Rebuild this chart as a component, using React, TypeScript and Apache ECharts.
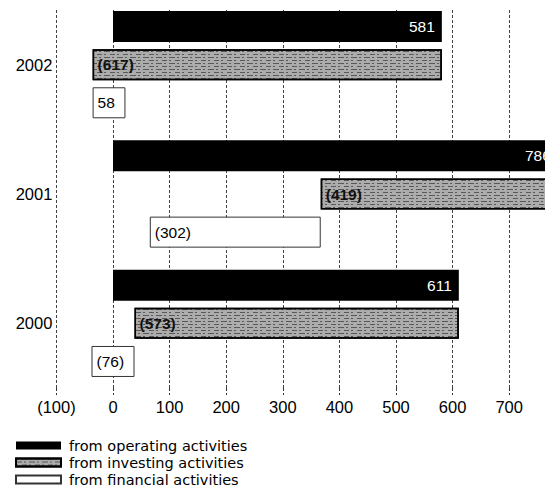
import React, { useEffect, useRef } from "react";
import * as echarts from "echarts";

// Cash flow per year (in millions), negative values shown in brackets
const years = ["2002", "2001", "2000"];
const operating = [581, 786, 611];
const investing = [-617, -419, -573];
const financial = [58, -302, -76];

const xTicksMin = -100;
const xTicksMax = 800;
const xTickStep = 100;
const lastLabelledTick = 700;

const seriesNames = [
  "from operating activities",
  "from investing activities",
  "from financial activities",
];

const FONT = "'Liberation Sans', Arial, Helvetica, sans-serif";
const LEGEND_FONT = "'DejaVu Sans', 'Liberation Sans', sans-serif";

const fmt = (v: number) => (v < 0 ? `(${-v})` : `${v}`);

export default function App() {
  const ref = useRef<HTMLDivElement>(null);

  useEffect(() => {
    if (!ref.current) return;
    const chart = echarts.init(ref.current, undefined, { renderer: "svg" });

    // Each flow starts where the previous one ended (waterfall per year)
    const invStart = operating;
    const invEnd = operating.map((o, i) => o + investing[i]);
    const invBase = invStart.map((s, i) => Math.min(s, invEnd[i]));
    const invLen = investing.map((v) => Math.abs(v));

    const finStart = invEnd;
    const finEnd = finStart.map((s, i) => s + financial[i]);
    const finBase = finStart.map((s, i) => Math.min(s, finEnd[i]));
    const finLen = financial.map((v) => Math.abs(v));

    const barWidth = 31;
    const hidden = {
      itemStyle: { color: "rgba(0,0,0,0)", borderWidth: 0 },
      silent: true,
      label: { show: false },
      emphasis: { disabled: true },
    };

    chart.setOption({
      animation: false,
      textStyle: { fontFamily: FONT },
      grid: { left: 56.4, top: 0, width: 509.4, height: 388, containLabel: false },
      // gridlines begin just above the first bar
      graphic: [
        {
          type: "rect",
          left: 0,
          top: 0,
          shape: { x: 0, y: 0, width: 600, height: 10 },
          style: { fill: "#fff" },
          silent: true,
          z: 1,
        },
      ],
      legend: {
        orient: "vertical",
        left: 15,
        top: 437,
        padding: 0,
        itemWidth: 45,
        itemHeight: 8,
        itemGap: 0,
        icon: "rect",
        data: seriesNames,
        selectedMode: false,
        textStyle: {
          fontSize: 14.5,
          lineHeight: 17,
          color: "#000",
          padding: [0, 0, 0, 3],
          fontFamily: LEGEND_FONT,
        },
      },
      xAxis: {
        type: "value",
        min: xTicksMin,
        max: xTicksMax,
        interval: xTickStep,
        axisLine: { show: false },
        axisTick: {
          show: true,
          length: 7,
          lineStyle: { color: "#333", type: [3, 2], width: 1 },
        },
        splitLine: {
          show: true,
          lineStyle: { color: "#444", type: [3, 2], width: 1 },
        },
        axisLabel: {
          fontSize: 16.5,
          color: "#000",
          margin: 10,
          fontFamily: FONT,
          formatter: (v: number) => (v > lastLabelledTick ? "" : fmt(v)),
        },
      },
      yAxis: {
        type: "category",
        inverse: true,
        data: years,
        axisLine: { show: false },
        axisTick: { show: false },
        splitLine: { show: false },
        axisLabel: {
          fontSize: 16.5,
          color: "#000",
          margin: 4,
          fontFamily: FONT,
        },
      },
      series: [
        {
          name: seriesNames[0],
          type: "bar",
          stack: "op",
          barWidth,
          barGap: "23%",
          data: operating,
          z: 3,
          itemStyle: { color: "#000" },
          label: {
            show: true,
            position: "insideRight",
            distance: 7,
            color: "#fff",
            fontSize: 15.5,
            fontFamily: FONT,
            formatter: (p: any) => fmt(operating[p.dataIndex]),
          },
        },
        {
          name: "investing-base",
          type: "bar",
          stack: "inv",
          stackStrategy: "all",
          barWidth,
          barGap: "23%",
          data: invBase,
          ...hidden,
        },
        {
          name: seriesNames[1],
          type: "bar",
          stack: "inv",
          stackStrategy: "all",
          barWidth,
          barGap: "23%",
          data: invLen,
          z: 3,
          itemStyle: {
            color: "#acacac",
            borderColor: "#000",
            borderWidth: 1.5,
            decal: {
              symbol: "rect",
              symbolSize: 1,
              color: "rgba(20,20,20,0.55)",
              dashArrayX: [
                [6, 2, 2, 3],
                [2, 4, 5, 2],
              ],
              dashArrayY: [1, 2],
              rotation: 0,
            },
          },
          label: {
            show: true,
            position: "insideLeft",
            distance: 5,
            color: "#111",
            fontWeight: "bold",
            fontSize: 15.5,
            fontFamily: FONT,
            formatter: (p: any) => fmt(investing[p.dataIndex]),
          },
        },
        {
          name: "financial-base",
          type: "bar",
          stack: "fin",
          stackStrategy: "all",
          barWidth,
          barGap: "23%",
          data: finBase,
          ...hidden,
        },
        {
          name: seriesNames[2],
          type: "bar",
          stack: "fin",
          stackStrategy: "all",
          barWidth,
          barGap: "23%",
          data: finLen,
          z: 3,
          itemStyle: { color: "#fff", borderColor: "#333", borderWidth: 1 },
          label: {
            show: true,
            position: "insideLeft",
            distance: 5,
            color: "#000",
            fontSize: 15.5,
            fontFamily: FONT,
            formatter: (p: any) => fmt(financial[p.dataIndex]),
          },
        },
      ],
    });

    return () => chart.dispose();
  }, []);

  // the plotting area runs past the right edge of the page, as the 2001 bar does
  return (
    <div
      ref={ref}
      style={{ position: "fixed", left: 0, top: 0, width: 580, height: 497, background: "#fff" }}
    />
  );
}
